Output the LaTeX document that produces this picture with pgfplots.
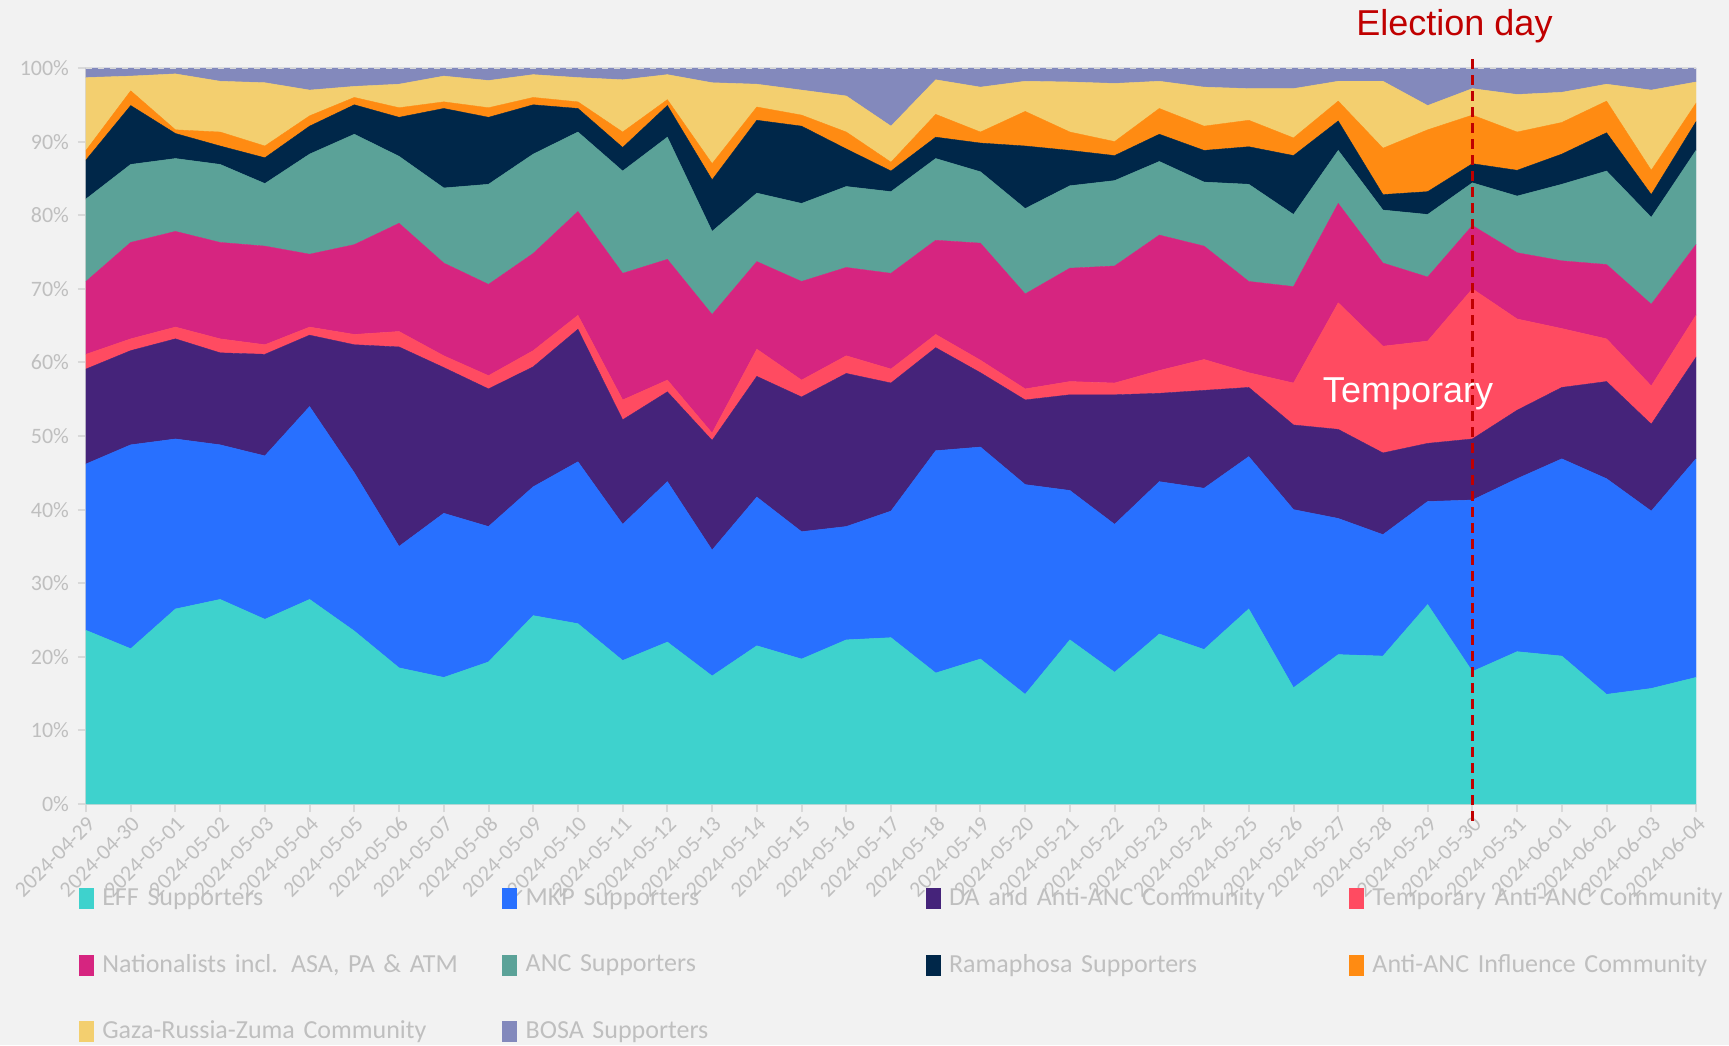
\documentclass[border=0pt]{standalone}
\usepackage{fontspec}
\setmainfont{Carlito}
\newfontfamily\arialfont{Liberation Sans}
\usepackage{pgfplots}
\usepackage{pgfplotstable}
\pgfplotsset{compat=1.18}
\definecolor{bg}{HTML}{F2F2F2}
\definecolor{tickgray}{HTML}{BFBFBF}
\definecolor{axisgray}{HTML}{D9D9D9}
\definecolor{gridgray}{HTML}{D9D9D9}
\definecolor{elecred}{HTML}{C00000}
\definecolor{ceff}{HTML}{3ED2CD}
\definecolor{cmkp}{HTML}{2870FF}
\definecolor{cda}{HTML}{45237A}
\definecolor{ctemp}{HTML}{FF4B61}
\definecolor{cnat}{HTML}{D62580}
\definecolor{canc}{HTML}{5BA298}
\definecolor{crama}{HTML}{002749}
\definecolor{canti}{HTML}{FF8B12}
\definecolor{cgaza}{HTML}{F3CF6F}
\definecolor{cbosa}{HTML}{8389BC}

\pgfplotstableread{
i eff mkp da temp nat anc rama anti gaza bosa
0 23.6 22.6 12.9 2.0 9.9 11.2 5.3 1.3 9.9 1.3
1 21.1 27.7 12.8 1.6 13.1 10.6 8.0 2.0 2.0 1.1
2 26.5 23.1 13.6 1.6 13.0 9.9 3.4 0.5 7.6 0.8
3 27.8 21.0 12.5 1.9 13.1 10.6 2.5 1.9 6.9 1.8
4 25.1 22.2 13.8 1.3 13.4 8.5 3.5 1.6 8.6 2.0
5 27.8 26.2 9.7 1.1 9.9 13.6 3.8 1.4 3.5 3.0
6 23.5 21.5 17.4 1.4 12.2 15.0 4.0 1.0 1.5 2.5
7 18.5 16.5 27.1 2.1 14.7 9.1 5.3 1.3 3.2 2.2
8 17.2 22.3 19.8 1.6 12.6 10.2 10.8 0.9 3.5 1.1
9 19.3 18.4 18.7 1.8 12.4 13.6 9.1 1.3 3.7 1.7
10 25.6 17.5 16.3 2.2 13.2 13.5 6.7 1.0 3.1 0.9
11 24.5 22.0 18.0 1.9 14.1 10.8 3.2 0.9 3.3 1.3
12 19.5 18.5 14.2 2.7 17.2 13.9 3.2 2.1 7.1 1.6
13 22.0 21.8 12.2 1.6 16.4 16.6 4.3 0.8 3.4 0.9
14 17.4 17.1 14.9 1.0 16.1 11.3 7.0 2.2 11.0 2.0
15 21.5 20.2 16.4 3.7 11.9 9.3 9.9 1.8 3.1 2.2
16 19.7 17.3 18.3 2.3 13.4 10.6 10.5 1.5 3.4 3.0
17 22.3 15.4 20.8 2.4 12.0 11.0 5.1 2.3 4.9 3.8
18 22.6 17.2 17.4 1.9 13.0 11.1 2.8 1.2 4.9 7.9
19 17.8 30.2 14.0 1.8 12.8 11.1 2.9 3.1 4.7 1.6
20 19.7 28.8 10.1 1.7 15.9 9.7 3.9 1.5 6.1 2.6
21 14.9 28.5 11.5 1.5 12.9 11.6 8.5 4.7 4.1 1.8
22 22.3 20.3 13.0 1.8 15.4 11.2 4.8 2.5 6.8 1.9
23 17.9 20.1 17.6 1.6 15.9 11.6 3.4 1.9 7.9 2.1
24 23.1 20.7 12.0 3.1 18.4 10.0 3.7 3.5 3.7 1.8
25 21.0 21.9 13.3 4.2 15.4 8.7 4.3 3.3 5.3 2.6
26 26.5 20.7 9.4 2.0 12.4 13.2 5.1 3.6 4.3 2.8
27 15.8 24.2 11.5 5.7 13.1 9.8 8.0 2.4 6.7 2.8
28 20.3 18.5 12.1 17.2 13.5 7.2 4.0 2.7 2.7 1.8
29 20.1 16.5 11.1 14.5 11.3 7.2 2.1 6.3 9.1 1.8
30 27.1 14.0 7.9 13.9 8.7 8.5 3.1 8.4 3.3 5.1
31 18.0 23.3 8.3 20.4 8.6 5.8 2.6 6.6 3.6 2.8
32 20.7 23.5 9.3 12.4 9.0 7.7 3.5 5.2 5.1 3.6
33 20.1 26.8 9.7 8.0 9.2 10.4 4.1 4.3 4.1 3.3
34 14.9 29.3 13.2 5.8 10.1 12.7 5.2 4.3 2.3 2.2
35 15.7 24.1 11.8 5.2 11.1 11.8 3.1 3.3 10.9 3.0
36 17.2 29.7 13.8 5.7 9.6 12.8 3.9 2.5 2.9 1.9
}\datatable

\begin{document}
\begin{tikzpicture}
\fill[bg] (-43pt,-120.5pt) rectangle (821.5pt,402pt);
\path[use as bounding box] (-43pt,-120.5pt) rectangle (821.5pt,402pt);
\begin{axis}[
  at={(0,0)}, anchor=south west,
  scale only axis, width=805pt, height=368pt,
  xmin=0, xmax=36, ymin=0, ymax=100,
  stack plots=y,
  every axis plot/.append style={mark=none, line width=0.2pt},
  axis x line*=bottom, axis y line*=left,
  axis line style={draw=axisgray, line width=1.2pt, -},
  xtick={0,...,36},
  xticklabels={2024-04-29,2024-04-30,2024-05-01,2024-05-02,2024-05-03,2024-05-04,2024-05-05,2024-05-06,2024-05-07,2024-05-08,2024-05-09,2024-05-10,2024-05-11,2024-05-12,2024-05-13,2024-05-14,2024-05-15,2024-05-16,2024-05-17,2024-05-18,2024-05-19,2024-05-20,2024-05-21,2024-05-22,2024-05-23,2024-05-24,2024-05-25,2024-05-26,2024-05-27,2024-05-28,2024-05-29,2024-05-30,2024-05-31,2024-06-01,2024-06-02,2024-06-03,2024-06-04},
  x tick label style={rotate=45, anchor=north east, font=\fontsize{11}{13}\selectfont, text=tickgray, inner sep=1pt},
  ytick={0,10,...,100},
  yticklabels={0\%,10\%,20\%,30\%,40\%,50\%,60\%,70\%,80\%,90\%,100\%},
  y tick label style={font=\fontsize{11}{13}\selectfont, text=tickgray, xshift=-1pt},
  tick style={draw=axisgray, line width=1pt},
  tick align=outside, major tick length=4pt,
  clip=false,
  legend columns=4,
  legend cell align=left,
  legend style={at={(0,0)}, anchor=north west, xshift=-6.75pt, yshift=-37.7pt,
    draw=none, fill=none, font=\fontsize{13}{15}\selectfont, text=tickgray,
    column sep=0pt, row sep=18.7pt,
    nodes={text width=198pt, inner sep=2pt}},
  legend image code/.code={\fill[#1] (0pt,-5pt) rectangle (7pt,5pt); \path (9.5pt,0pt);},
]
\draw[gridgray, dashed, line width=1pt] (axis cs:0,100) -- (axis cs:36,100);
\addplot[fill=ceff, draw=ceff] table[x=i,y=eff]{\datatable} \closedcycle;
\addlegendentry{EFF Supporters}
\addplot[fill=cmkp, draw=cmkp] table[x=i,y=mkp]{\datatable} \closedcycle;
\addlegendentry{MKP Supporters}
\addplot[fill=cda, draw=cda] table[x=i,y=da]{\datatable} \closedcycle;
\addlegendentry{DA and Anti-ANC Community}
\addplot[fill=ctemp, draw=ctemp] table[x=i,y=temp]{\datatable} \closedcycle;
\addlegendentry{Temporary Anti-ANC Community}
\addplot[fill=cnat, draw=cnat] table[x=i,y=nat]{\datatable} \closedcycle;
\addlegendentry{Nationalists incl. ASA, PA \& ATM}
\addplot[fill=canc, draw=canc] table[x=i,y=anc]{\datatable} \closedcycle;
\addlegendentry{ANC Supporters}
\addplot[fill=crama, draw=crama] table[x=i,y=rama]{\datatable} \closedcycle;
\addlegendentry{Ramaphosa Supporters}
\addplot[fill=canti, draw=canti] table[x=i,y=anti]{\datatable} \closedcycle;
\addlegendentry{Anti-ANC Influence Community}
\addplot[fill=cgaza, draw=cgaza] table[x=i,y=gaza]{\datatable} \closedcycle;
\addlegendentry{Gaza-Russia-Zuma Community}
\addplot[fill=cbosa, draw=cbosa] table[x=i,y=bosa]{\datatable} \closedcycle;
\addlegendentry{BOSA Supporters}
\coordinate (elbot) at (axis cs:31,-2.3);
\coordinate (eltop) at (axis cs:31,101.8);
\coordinate (eltext) at (axis cs:30.6,100);
\coordinate (temptext) at (axis cs:29.56,54.6);
\end{axis}
\draw[elecred, line width=1.5pt, dash pattern=on 5pt off 3pt] (elbot) -- (eltop);
\node[anchor=base, font=\arialfont\fontsize{18}{20}\selectfont, text=elecred, yshift=16pt] at (eltext) {Election day};
\node[anchor=base, font=\arialfont\fontsize{18}{20}\selectfont, text=white] at (temptext) {Temporary};
\end{tikzpicture}
\end{document}
